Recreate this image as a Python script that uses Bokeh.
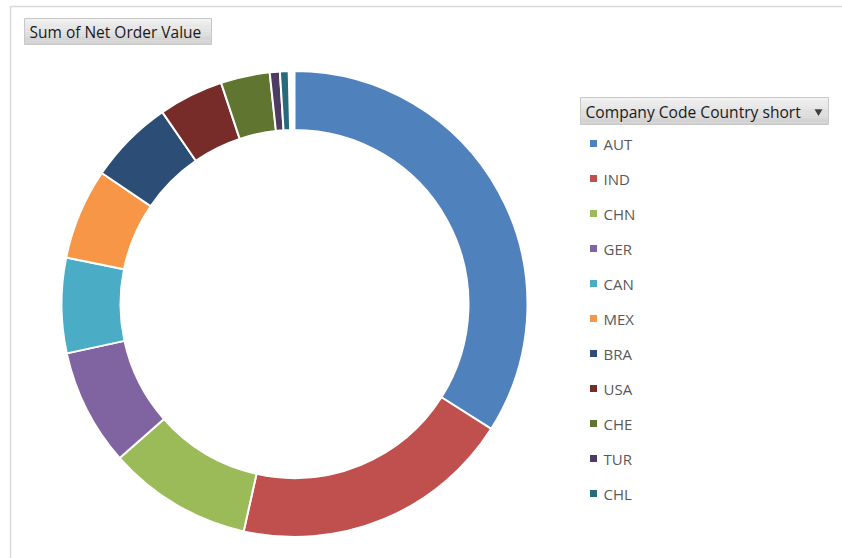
import numpy as np
from bokeh.plotting import figure
from bokeh.models import Range1d, ColumnDataSource
from bokeh.core.properties import value
from bokeh.embed import file_html
from bokeh.resources import INLINE

# ---- data (share of Net Order Value, percent) ----
countries = ["AUT", "IND", "CHN", "GER", "CAN", "MEX", "BRA", "USA", "CHE", "TUR", "CHL"]
share_pct = [34.0, 19.5, 10.0, 8.1, 6.6, 6.3, 5.9, 4.5, 3.4, 0.7, 0.6]
colors = ["#4F81BD", "#C0504D", "#9BBB59", "#8064A2", "#4BACC6", "#F79646",
          "#2C4D75", "#772C2A", "#5F7530", "#4D3B62", "#276A7C"]
title_text = "Sum of Net Order Value"
legend_title = "Company Code Country short"
total_pct = 100.0

W, H = 842, 558
FONT = "Open Sans"

p = figure(width=W, height=H, x_range=Range1d(0, W), y_range=Range1d(0, H),
           output_backend="svg", toolbar_location=None, min_border=0)
p.axis.visible = False
p.grid.visible = False
p.outline_line_color = None
p.background_fill_color = "white"
p.border_fill_color = "white"


def Y(y):
    return H - y


# chart frame
p.quad(left=10, right=850, top=Y(6), bottom=Y(570), fill_color=None,
       line_color="#d9d9d9", line_width=1.5)

# donut
frac = np.array(share_pct) / total_pct
ends = np.cumsum(frac) * 2 * np.pi
starts = ends - frac * 2 * np.pi
src = ColumnDataSource(dict(start=np.pi / 2 - starts, end=np.pi / 2 - ends,
                            color=colors, country=countries))
p.annular_wedge(x=294, y=Y(303.5), inner_radius=174, outer_radius=233,
                start_angle="start", end_angle="end", direction="clock",
                fill_color="color", line_color="white", line_width=2, source=src)


def button(x0, x1, y0, y1):
    n = 12
    h = (y1 - y0) / n
    for i in range(n):
        t = i / (n - 1)
        c = int(240 - 32 * t)
        p.quad(left=x0, right=x1, top=Y(y0 + i * h), bottom=Y(y0 + (i + 1) * h),
               fill_color=(c, c, c), line_color=None)
    p.quad(left=x0, right=x1, top=Y(y0), bottom=Y(y1), fill_color=None,
           line_color="#c8c8c8", line_width=1)


# title button
button(24, 211, 18, 44)
p.text(x=[29], y=[Y(31)], text=[title_text], text_font=value(FONT),
       text_font_size="15.5px", text_color="#1a1a1a", text_baseline="middle")

# legend header button
button(580, 828, 97, 124)
p.text(x=[585], y=[Y(111)], text=[legend_title], text_font=value(FONT),
       text_font_size="15.6px", text_color="#1a1a1a", text_baseline="middle")
p.scatter(x=[818], y=[Y(111)], marker="inverted_triangle", size=8,
          fill_color="#404040", line_color=None)

# legend entries
ly = [Y(143 + 35 * i) for i in range(len(countries))]
p.scatter(x=[593] * len(countries), y=ly, marker="square", size=7,
          fill_color=colors, line_color=None)
p.text(x=[603] * len(countries), y=ly, text=countries, text_font=value(FONT),
       text_font_size="15px", text_color="#595959", text_baseline="middle")

open("out.html", "w").write(file_html(p, INLINE))
